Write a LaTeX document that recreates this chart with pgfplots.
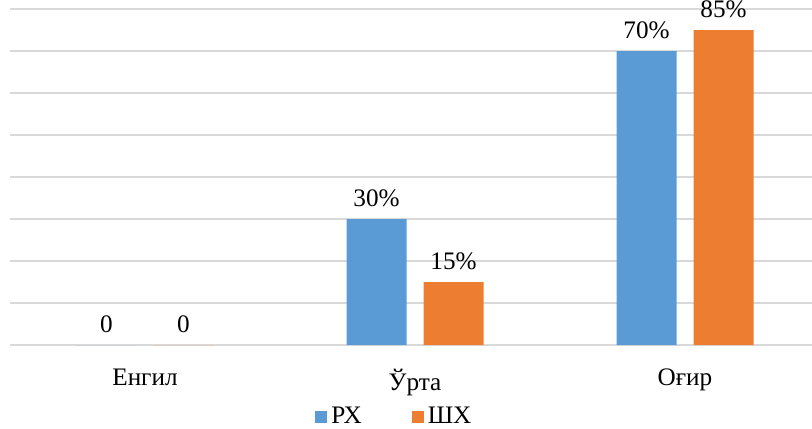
\documentclass[border=0pt]{standalone}
\usepackage{pgfplots}
\pgfplotsset{compat=1.18}
\usepackage{fontspec}
\setmainfont{Liberation Serif}
\definecolor{rxblue}{HTML}{5B9BD5}
\definecolor{shorange}{HTML}{ED7D31}
\definecolor{gridgray}{HTML}{D9D9D9}
\begin{document}
\begin{tikzpicture}
\begin{axis}[
  scale only axis,
  width=405pt, height=168pt,
  xmin=-0.5, xmax=2.5, ymin=0, ymax=80,
  ybar=8.5pt, bar width=30pt,
  axis line style={draw=none},
  xtick={0,1,2},
  xticklabels={Енгил,Ўрта,Оғир},
  ytick={0,10,...,80},
  yticklabels={},
  major tick length=0pt,
  ymajorgrids,
  grid style={gridgray, line width=0.75pt},
  tick label style={font=\fontsize{12.6}{14}\selectfont, black},
  xticklabel style={yshift=-8.5pt},
  point meta=explicit symbolic,
  nodes near coords,
  every node near coord/.append style={font=\fontsize{12.6}{14}\selectfont, black, yshift=2.5pt},
  legend columns=2,
  legend style={draw=none, fill=none, inner sep=0pt, at={(0.3765,-0.214)}, anchor=west,
    font=\fontsize{12.6}{14}\selectfont,
    /tikz/every even column/.append style={column sep=23pt}},
  legend image code/.code={\fill[#1] (0pt,-3pt) rectangle (6pt,3pt);},
]
\addplot[fill=rxblue, draw=none] coordinates {(0,0)[0] (1,30)[30\%] (2,70)[70\%]};
\addplot[fill=shorange, draw=none] coordinates {(0,0)[0] (1,15)[15\%] (2,75)[85\%]};
\legend{РХ,ШХ}
\end{axis}
\pgfresetboundingbox
\useasboundingbox (-5pt,-41.5pt) rectangle (401pt,172.5pt);
\end{tikzpicture}
\end{document}
